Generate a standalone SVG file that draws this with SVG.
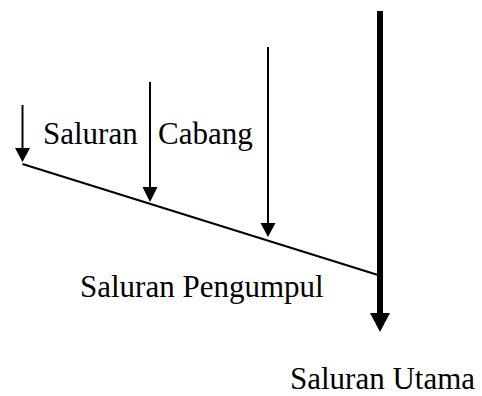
<svg xmlns="http://www.w3.org/2000/svg" width="482" height="396" viewBox="0 0 482 396">
<style>
.t{font-family:"Liberation Serif","Times New Roman",serif;font-size:31px;fill:#000}
.ln{stroke:#000;fill:none}
</style>
<rect width="482" height="396" fill="#fff"/>
<g id="connectors">
<line class="ln" x1="22.5" y1="164" x2="378" y2="275" stroke-width="2"/>
<line class="ln" x1="22.5" y1="105" x2="22.5" y2="148" stroke-width="2"/>
<path d="M15,148 L30,148 L22.5,162 Z" fill="#000"/>
<line class="ln" x1="150" y1="82" x2="150" y2="188" stroke-width="2"/>
<path d="M142.5,187 L157.5,187 L150,202 Z" fill="#000"/>
<line class="ln" x1="268" y1="47" x2="268" y2="224" stroke-width="2"/>
<path d="M260.5,223 L275.5,223 L268,237 Z" fill="#000"/>
<line class="ln" x1="380" y1="11" x2="380" y2="314" stroke-width="6"/>
<path d="M370,313 L390,313 L380,332 Z" fill="#000"/>
</g>
<g id="label-cabang">
<text class="t" x="43" y="144">Saluran</text>
<text class="t" x="158" y="144">Cabang</text>
</g>
<g id="label-pengumpul">
<text class="t" x="80" y="297">Saluran Pengumpul</text>
</g>
<g id="label-utama">
<text class="t" x="290" y="389">Saluran Utama</text>
</g>
</svg>
